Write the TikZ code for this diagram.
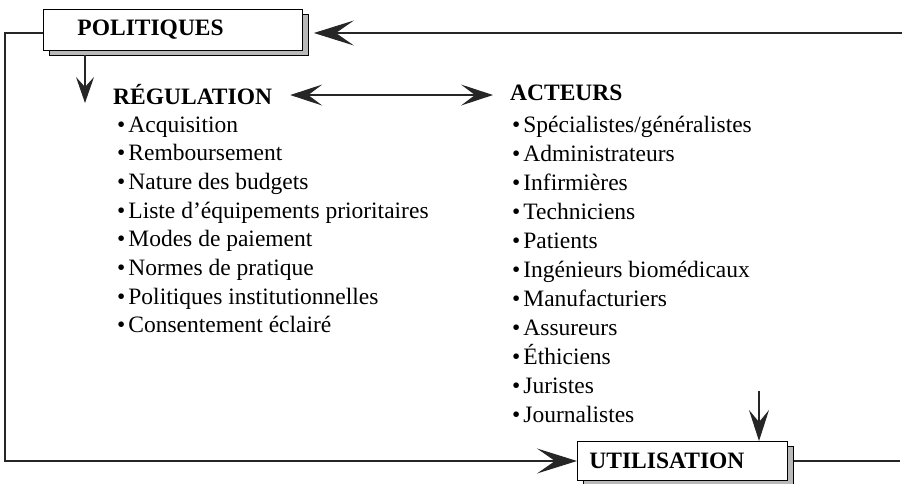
\documentclass[tikz,border=0pt]{standalone}
\usepackage{fontspec}
\setmainfont{Liberation Serif}
\usetikzlibrary{arrows.meta,shadows}
\begin{document}
\begin{tikzpicture}[x=1pt,y=-1pt,
  every node/.style={font=\fontsize{23.5}{28}\selectfont, inner sep=0pt},
  box/.style={draw=black, line width=0.9pt, fill=white, minimum height=41pt,
    align=left, font=\fontsize{23.5}{28}\selectfont\bfseries,
    copy shadow={shadow xshift=6pt, shadow yshift=-5pt, fill=gray!55, draw=black, line width=0.9pt}},
  head/.style={font=\fontsize{23.5}{28}\selectfont\bfseries, anchor=base west},
  item/.style={anchor=base west},
  wire/.style={line width=1.1pt, draw=black!85},
  bigtip/.style={-{Stealth[length=40pt,width=25pt,inset=18pt]}},
  midtip/.style={-{Stealth[length=31pt,width=20pt,inset=12pt]}},
  smalltip/.style={-{Stealth[length=26pt,width=18pt,inset=10pt]}},
  dbltip/.style={{Stealth[length=32pt,width=21pt,inset=14pt]}-{Stealth[length=32pt,width=21pt,inset=14pt]}},
]
\useasboundingbox (0,0) rectangle (902,484);

% frame corners
\coordinate (nw) at (5,33);
\coordinate (sw) at (5,461);
\coordinate (ne) at (902,33);
\coordinate (se) at (900,461);

% boxes
\node[box, text width=191pt, inner xsep=34pt, anchor=north west] (pol) at (43,9) {POLITIQUES};
\node[box, text width=186pt, inner xsep=12pt, minimum height=39pt, anchor=north west] (util) at (577,441) {UTILISATION};

% headings
\node[head] (reg) at (113,105) {RÉGULATION};
\node[head] (act) at (510,101) {ACTEURS};

% lists
\foreach \t [count=\i] in {Acquisition, Remboursement, Nature des budgets,
  Liste d’équipements prioritaires, Modes de paiement, Normes de pratique,
  Politiques institutionnelles, Consentement éclairé}
  \node[item] (r\i) at (117,{132+28.7*(\i-1)}) {\textbullet\hspace{3pt}\t};
\foreach \t [count=\i] in {Spécialistes/généralistes, Administrateurs, Infirmières,
  Techniciens, Patients, Ingénieurs biomédicaux, Manufacturiers, Assureurs,
  Éthiciens, Juristes, Journalistes}
  \node[item] (a\i) at (512,{132+29*(\i-1)}) {\textbullet\hspace{3pt}\t};

% connectors
\draw[wire, bigtip] (nw -| pol.west) -- (nw) -- (sw) -- (sw -| util.west);
\draw[wire, bigtip] (ne) -- ([xshift=11pt]ne -| pol.east);
\draw[wire] ([xshift=6pt]se -| util.east) -- (se);

\coordinate (d1) at (85,103);
\draw[wire, smalltip] ([yshift=-4pt]pol.south -| d1) -- (d1);

\draw[wire, dbltip] ([xshift=18pt]reg.east) -- ([xshift=-17pt]act.west |- reg.east);

\coordinate (ut) at (759,391);
\draw[wire, midtip] (ut) -- (util.north -| ut);
\end{tikzpicture}
\end{document}
